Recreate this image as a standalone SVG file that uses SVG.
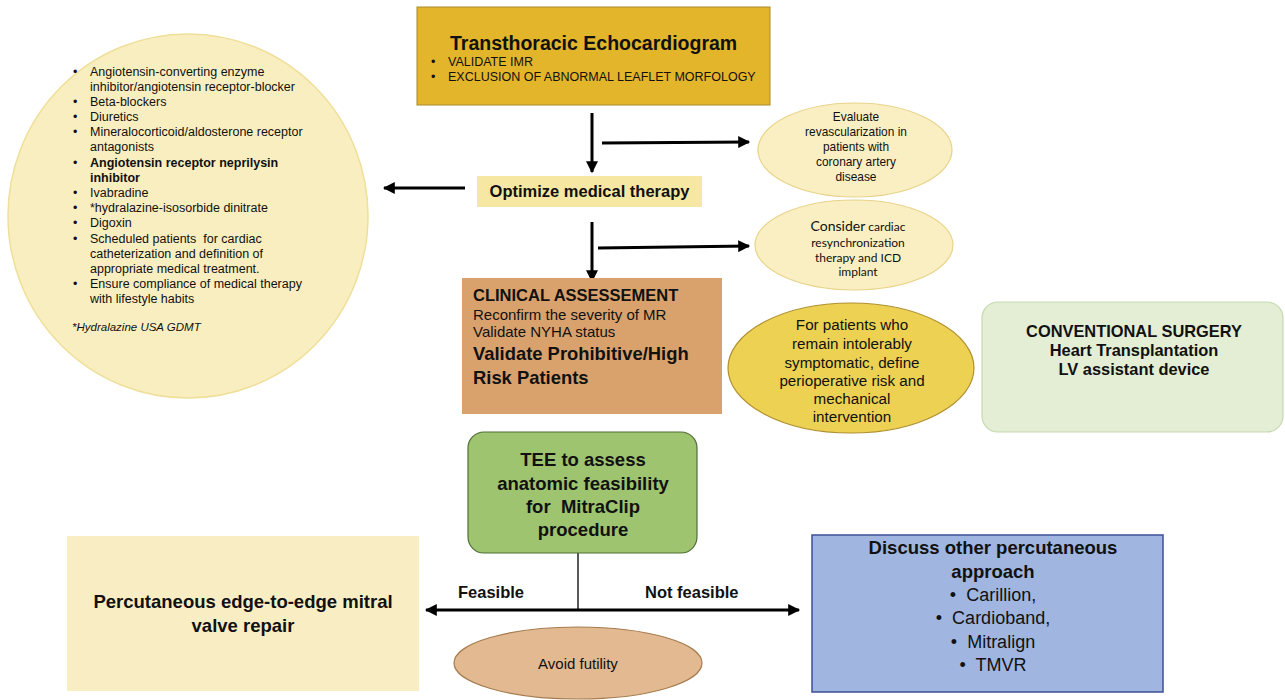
<svg xmlns="http://www.w3.org/2000/svg" width="1285" height="700" viewBox="0 0 1285 700">
<style>
text{font-family:"Liberation Sans",Arial,sans-serif;fill:#111}
.b{font-weight:bold}
.c{text-anchor:middle}
.lst{font-size:12.5px}
.ln{stroke:#000;stroke-width:3;fill:none}
.cal text{font-family:Lato,"Open Sans",sans-serif}
</style>
<defs>
<marker id="ah" viewBox="0 0 10 10" refX="9" refY="5" markerWidth="4.2" markerHeight="4" orient="auto" markerUnits="strokeWidth">
<path d="M0,0 L10,5 L0,10 z" fill="#000"/>
</marker>
</defs>
<rect width="1285" height="700" fill="#fff"/>

<g id="connectors">
<line class="ln" x1="592" y1="113" x2="592" y2="172" marker-end="url(#ah)"/>
<line class="ln" x1="602" y1="143" x2="749" y2="142" marker-end="url(#ah)"/>
<line class="ln" x1="465" y1="188" x2="384" y2="188" marker-end="url(#ah)"/>
<line class="ln" x1="592" y1="222" x2="592" y2="281" marker-end="url(#ah)"/>
<line class="ln" x1="598" y1="248" x2="749" y2="246" marker-end="url(#ah)"/>
<line x1="578" y1="553" x2="578" y2="611" stroke="#222" stroke-width="1.5"/>
<line class="ln" x1="578" y1="610" x2="426" y2="610" marker-end="url(#ah)"/>
<line class="ln" x1="578" y1="610" x2="799" y2="610" marker-end="url(#ah)"/>
<text class="b" x="458" y="598" font-size="16.5">Feasible</text>
<text class="b" x="645" y="598" font-size="16.5">Not feasible</text>
</g>

<g id="medications">
<ellipse cx="188" cy="216" rx="180" ry="182" fill="#f9eebf" stroke="#efdf9a" stroke-width="1.5"/>
<g class="lst">
<text x="73" y="76">•</text><text x="90" y="76">Angiotensin-converting enzyme</text>
<text x="90" y="91">inhibitor/angiotensin receptor-blocker</text>
<text x="73" y="106">•</text><text x="90" y="106">Beta-blockers</text>
<text x="73" y="121">•</text><text x="90" y="121">Diuretics</text>
<text x="73" y="136">•</text><text x="90" y="136">Mineralocorticoid/aldosterone receptor</text>
<text x="90" y="151">antagonists</text>
<text x="73" y="166.5">•</text><text class="b" x="90" y="166.5">Angiotensin receptor neprilysin</text>
<text class="b" x="90" y="181.5">inhibitor</text>
<text x="73" y="197">•</text><text x="90" y="197">Ivabradine</text>
<text x="73" y="212">•</text><text x="90" y="212">*hydralazine-isosorbide dinitrate</text>
<text x="73" y="227">•</text><text x="90" y="227">Digoxin</text>
<text x="73" y="242.5">•</text><text x="90" y="242.5" xml:space="preserve">Scheduled patients  for cardiac</text>
<text x="90" y="257.5">catheterization and definition of</text>
<text x="90" y="272.5">appropriate medical treatment.</text>
<text x="73" y="288">•</text><text x="90" y="288">Ensure compliance of medical therapy</text>
<text x="90" y="303">with lifestyle habits</text>
</g>
<text x="72" y="331" font-size="11.5" font-style="italic">*Hydralazine USA GDMT</text>
</g>

<g id="tte">
<rect x="417" y="7" width="353" height="98" fill="#e3b52b" stroke="#a88a2a" stroke-width="1"/>
<text class="b" x="450" y="50" font-size="19.5">Transthoracic Echocardiogram</text>
<text x="431" y="65.5" font-size="12.5">•</text><text x="448" y="65.5" font-size="12.5">VALIDATE IMR</text>
<text x="431" y="80.5" font-size="12.5">•</text><text x="448" y="80.5" font-size="12.5">EXCLUSION OF ABNORMAL LEAFLET MORFOLOGY</text>
</g>

<g id="optimize">
<rect x="477" y="176" width="225" height="31" fill="#f6e8a2"/>
<text class="b c" x="589.5" y="197" font-size="16.5">Optimize medical therapy</text>
</g>

<g id="revascularization">
<ellipse cx="855" cy="150" rx="97" ry="47" fill="#faefc2" stroke="#e8d38a" stroke-width="1.2"/>
<g class="c" font-size="11.9">
<text x="856" y="121">Evaluate</text>
<text x="856" y="136">revascularization in</text>
<text x="856" y="151">patients with</text>
<text x="856" y="166">coronary artery</text>
<text x="856" y="181">disease</text>
</g>
</g>

<g id="crt">
<ellipse cx="854" cy="245" rx="99" ry="45" fill="#faefc2" stroke="#e8d38a" stroke-width="1.2"/>
<g class="c cal" font-size="12">
<text x="858" y="231"><tspan font-size="14">Consider</tspan> cardiac</text>
<text x="858" y="247">resynchronization</text>
<text x="858" y="262">therapy and ICD</text>
<text x="858" y="276">implant</text>
</g>
</g>

<g id="clinical">
<rect x="462" y="278" width="260" height="136" fill="#d9a26d"/>
<text class="b" x="473" y="301" font-size="16.5">CLINICAL ASSESSEMENT</text>
<text x="473" y="320" font-size="15">Reconfirm the severity of MR</text>
<text x="473" y="337" font-size="15">Validate NYHA status</text>
<text class="b" x="473" y="360" font-size="18.4">Validate Prohibitive/High</text>
<text class="b" x="473" y="384" font-size="18.4">Risk Patients</text>
</g>

<g id="symptomatic">
<ellipse cx="851" cy="368" rx="123" ry="65" fill="#ecd152" stroke="#b09030" stroke-width="1.2"/>
<g class="c" font-size="15.2">
<text x="852" y="330">For patients who</text>
<text x="852" y="349">remain intolerably</text>
<text x="852" y="368">symptomatic, define</text>
<text x="852" y="386">perioperative risk and</text>
<text x="852" y="404">mechanical</text>
<text x="852" y="422">intervention</text>
</g>
</g>

<g id="surgery">
<rect x="982" y="302" width="301" height="130" rx="16" fill="#e3eed5" stroke="#c5d9b0" stroke-width="1.2"/>
<g class="b c" font-size="16.4">
<text x="1134" y="337">CONVENTIONAL SURGERY</text>
<text x="1134" y="356">Heart Transplantation</text>
<text x="1134" y="375">LV assistant device</text>
</g>
</g>

<g id="tee">
<rect x="468" y="432" width="229" height="121" rx="16" fill="#9fc470" stroke="#4f6e33" stroke-width="1.2"/>
<g class="b c" font-size="18.5">
<text x="583" y="466">TEE to assess</text>
<text x="583" y="490">anatomic feasibility</text>
<text x="583" y="513" xml:space="preserve">for  MitraClip</text>
<text x="583" y="536">procedure</text>
</g>
</g>

<g id="repair">
<rect x="67" y="536" width="352" height="155" fill="#f9eec3"/>
<g class="b c" font-size="18.5">
<text x="243" y="608">Percutaneous edge-to-edge mitral</text>
<text x="243" y="632">valve repair</text>
</g>
</g>

<g id="futility">
<ellipse cx="578" cy="663" rx="124" ry="36" fill="#e2b990" stroke="#a67c4f" stroke-width="1.2"/>
<text class="c" x="578" y="669" font-size="15">Avoid futility</text>
</g>

<g id="other">
<rect x="812" y="535" width="351" height="157" fill="#a0b5e0" stroke="#3c4f96" stroke-width="1.5"/>
<g class="c">
<text class="b" x="993" y="554" font-size="18.5">Discuss other percutaneous</text>
<text class="b" x="993" y="578" font-size="18.5">approach</text>
<text x="993" y="601" font-size="18" xml:space="preserve">•  Carillion,</text>
<text x="993" y="624" font-size="18" xml:space="preserve">•  Cardioband,</text>
<text x="993" y="648" font-size="18" xml:space="preserve">•  Mitralign</text>
<text x="993" y="671" font-size="18" xml:space="preserve">•  TMVR</text>
</g>
</g>
</svg>
